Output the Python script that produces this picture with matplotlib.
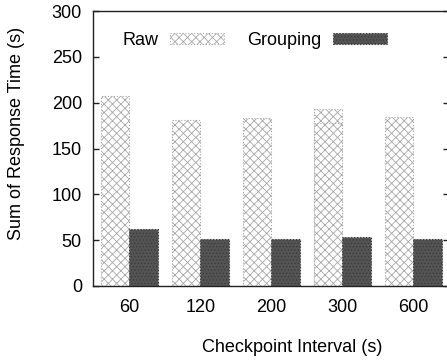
import numpy as np
import matplotlib
matplotlib.use("Agg")
import matplotlib.pyplot as plt

plt.rcParams['font.family'] = ['Liberation Sans', 'DejaVu Sans']
plt.rcParams['hatch.linewidth'] = 0.6

# Data
intervals = ["60", "120", "200", "300", "600"]
raw = [207, 181, 183, 193, 184]
raw_inner = [np.nan, np.nan, np.nan, 178, np.nan]
grouping = [62, 51, 51, 53, 51]
yticks = [0, 50, 100, 150, 200, 250, 300]

W, H = 447, 363
AX_W = 355.5
fig = plt.figure(figsize=(W / 100, H / 100), dpi=100)
ax = fig.add_axes([93 / W, (H - 286) / H, AX_W / W, 275 / H])

x = np.arange(len(intervals))
bw = 0.4
raw_style = dict(width=bw, align='edge', facecolor='white', edgecolor='#a8a8a8',
                 hatch='xxxx', linewidth=0.8, linestyle=':')
ax.bar(x - bw, raw, label='Raw', **raw_style)
ax.bar(x - bw, raw_inner, **raw_style)
ax.bar(x, grouping, width=bw, align='edge', facecolor='#545454',
       edgecolor='#3c3c3c', hatch='.....', linewidth=0.8, linestyle=':',
       label='Grouping')

ax.set_xlim(-0.51, -0.51 + AX_W / 71.0)
ax.set_ylim(0, 300)
ax.set_xticks(x)
ax.set_xticklabels(intervals)
ax.set_yticks(yticks)

ax.tick_params(axis='x', length=0, pad=9, labelsize=13)
ax.tick_params(axis='y', direction='in', length=4.5, width=1.0, pad=8,
               labelsize=13, right=True, color='#222222')
for s in ax.spines.values():
    s.set_linewidth(1.0)
    s.set_color('#222222')

xl = ax.set_xlabel('Checkpoint Interval (s)', fontsize=13)
ax.xaxis.set_label_coords((292.5 - 93) / AX_W, -(348 - 286) / 275)
xl.set_verticalalignment('center')
yl = ax.set_ylabel('Sum of Response Time (s)', fontsize=13)
ax.yaxis.set_label_coords(-(93 - 17) / AX_W, (286 - 133) / 275)
yl.set_verticalalignment('center')

leg = ax.legend(loc='upper left', bbox_to_anchor=((123 - 93) / AX_W, (286 - 32) / 275),
                ncol=2, frameon=False, markerfirst=False, fontsize=13,
                handlelength=3.0, handleheight=0.6, handletextpad=0.6,
                columnspacing=1.3, borderpad=0, borderaxespad=0)

fig.savefig('out.png', dpi=100)
